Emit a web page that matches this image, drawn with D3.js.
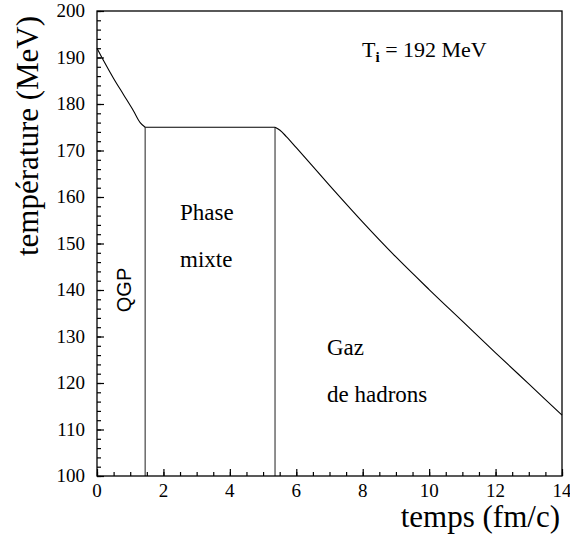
<!DOCTYPE html>
<html>
<head>
<meta charset="utf-8">
<script src="https://cdn.jsdelivr.net/npm/d3@7"></script>
<style>
  body { margin: 0; background: #fff; }
</style>
</head>
<body>
<svg class="chart" width="570" height="543"></svg>
<script>
// temperature evolution
var qgpTime = [0, 0.2, 0.5, 0.8, 1.1, 1.3, 1.45];
var qgpTemp = [192, 189.3, 185.5, 182, 178.5, 176, 175];

var mixedTime = [1.45, 5.36];
var mixedTemp = [175, 175];

var hadronTime = [5.36, 5.5, 5.7, 6, 7, 8, 9, 10, 11, 12, 13, 14];
var hadronTemp = [175, 174.4, 173, 170.6, 162.5, 154.6, 147.1, 140.1, 133.3, 126.5, 119.8, 113.1];

// phase boundaries (fm/c)
var boundaries = [1.45, 5.36];

var xTicks = [0, 2, 4, 6, 8, 10, 12, 14];
var yTicks = [100, 110, 120, 130, 140, 150, 160, 170, 180, 190, 200];

var SERIF = "'Liberation Serif', 'Times New Roman', serif";
var SANS = "'Liberation Sans', Arial, sans-serif";

var margin = { left: 97, right: 8, top: 11, bottom: 67 };
var canvasWidth = 570;
var canvasHeight = 543;

var x = d3.scaleLinear().domain([0, 14])
    .range([margin.left, canvasWidth - margin.right]);
var y = d3.scaleLinear().domain([100, 200])
    .range([canvasHeight - margin.bottom, margin.top]);

var canvas = d3.select(".chart");

function tickGroup(axis, transform) {
    canvas.append("g")
        .attr("transform", transform)
        .call(axis)
        .call(function (g) { g.select(".domain").remove(); })
        .selectAll("line").attr("stroke", "#000").attr("stroke-width", 1.2);
}

// minor ticks (inside the frame)
tickGroup(d3.axisTop(x).tickValues(d3.range(0, 14.01, 0.5)).tickSize(4).tickFormat(""),
    "translate(0," + y(100) + ")");
tickGroup(d3.axisRight(y).tickValues(d3.range(100, 200.01, 2)).tickSize(4).tickFormat(""),
    "translate(" + x(0) + ",0)");

// major ticks
tickGroup(d3.axisTop(x).tickValues(xTicks).tickSize(7).tickFormat(""),
    "translate(0," + y(100) + ")");
tickGroup(d3.axisRight(y).tickValues(yTicks).tickSize(7).tickFormat(""),
    "translate(" + x(0) + ",0)");

// tick labels
canvas.append("g").selectAll("text")
    .data(xTicks)
    .enter().append("text")
    .attr("x", function (d) { return x(d); })
    .attr("y", y(100) + 21)
    .attr("text-anchor", "middle")
    .style("font-family", SERIF)
    .style("font-size", "19px")
    .text(function (d) { return d; });

canvas.append("g").selectAll("text")
    .data(yTicks)
    .enter().append("text")
    .attr("x", x(0) - 12)
    .attr("y", function (d) { return y(d); })
    .attr("dy", "0.33em")
    .attr("text-anchor", "end")
    .style("font-family", SERIF)
    .style("font-size", "19px")
    .text(function (d) { return d; });

// phase boundaries
canvas.append("g").selectAll("line")
    .data(boundaries)
    .enter().append("line")
    .attr("x1", function (d) { return x(d); })
    .attr("x2", function (d) { return x(d); })
    .attr("y1", y(175))
    .attr("y2", y(100))
    .attr("stroke", "#444")
    .attr("stroke-width", 1.2);

// temperature curve
var line = d3.line()
    .x(function (d) { return x(d[0]); })
    .y(function (d) { return y(d[1]); })
    .curve(d3.curveMonotoneX);

[[qgpTime, qgpTemp], [mixedTime, mixedTemp], [hadronTime, hadronTemp]].forEach(function (s) {
    canvas.append("path")
        .datum(d3.zip(s[0], s[1]))
        .attr("fill", "none")
        .attr("stroke", "#000")
        .attr("stroke-width", 1.1)
        .attr("d", line);
});

// frame
canvas.append("rect")
    .attr("x", x(0))
    .attr("y", y(200))
    .attr("width", x(14) - x(0))
    .attr("height", y(100) - y(200))
    .attr("fill", "none")
    .attr("stroke", "#000")
    .attr("stroke-width", 1.3);

// annotations
function label(px, py, txt, size) {
    return canvas.append("text")
        .attr("x", px)
        .attr("y", py)
        .style("font-family", SERIF)
        .style("font-size", size + "px")
        .text(txt);
}

var ti = label(362, 57, null, 22);
ti.append("tspan").text("T");
ti.append("tspan").attr("dy", 5).style("font-size", "15px").style("font-weight", "bold").text("i");
ti.append("tspan").attr("dy", -5).text(" = 192 MeV");

label(180, 220, "Phase", 23);
label(180, 267, "mixte", 23);
label(327, 355, "Gaz", 23);
label(327, 402, "de hadrons", 23);

canvas.append("text")
    .attr("transform", "translate(131,290) rotate(-90)")
    .attr("text-anchor", "middle")
    .style("font-family", SANS)
    .style("font-size", "20px")
    .text("QGP");

// axis titles
canvas.append("text")
    .attr("transform", "translate(38,136) rotate(-90)")
    .attr("text-anchor", "middle")
    .style("font-family", SERIF)
    .style("font-size", "31px")
    .text("température (MeV)");

canvas.append("text")
    .attr("x", 560)
    .attr("y", 527)
    .attr("text-anchor", "end")
    .style("font-family", SERIF)
    .style("font-size", "31px")
    .text("temps (fm/c)");
</script>
</body>
</html>
